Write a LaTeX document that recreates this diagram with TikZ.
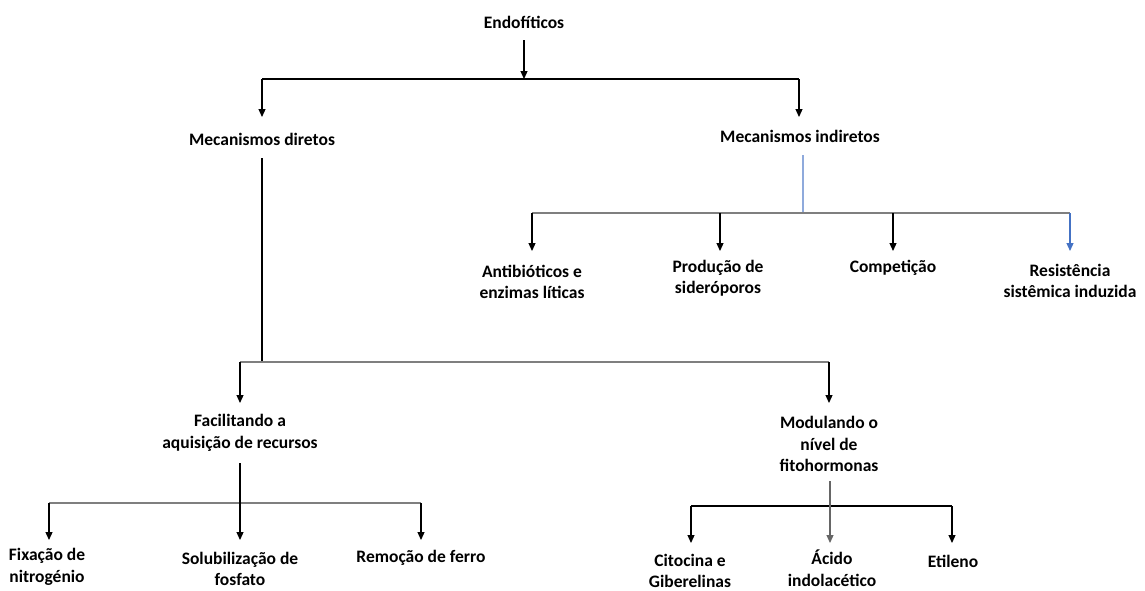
\documentclass[tikz,border=0pt]{standalone}
\usepackage{fontspec}
\setmainfont{Carlito}
\usetikzlibrary{arrows.meta}
\definecolor{lineblue}{HTML}{8FAADC}
\definecolor{arrowblue}{HTML}{4472C4}
\definecolor{linegray}{HTML}{7F7F7F}
\tikzset{
  lbl/.style={font=\bfseries\fontsize{17.5}{21.5}\selectfont, align=center, inner sep=0pt},
  arr/.style={-{Triangle[width=7pt,length=8pt]}, line width=1.2pt, black},
  ln/.style={line width=1.2pt, black},
  gln/.style={line width=1.3pt, linegray},
}
\begin{document}
\begin{tikzpicture}[x=1pt,y=-1pt]
\useasboundingbox (0,0) rectangle (1145,590);
\fill[white] (0,0) rectangle (1145,590);
% nodes
\node[lbl] (endo) at (524,22) {Endofíticos};
\node[lbl] (md) at (262,139) {Mecanismos diretos};
\node[lbl] (mi) at (800,136) {Mecanismos indiretos};
\node[lbl] (anti) at (532,282) {Antibióticos e\\enzimas líticas};
\node[lbl] (prod) at (718,278) {Produção de\\sideróporos};
\node[lbl] (comp) at (893,268) {Competição};
\node[lbl] (resi) at (1070,281) {Resistência\\sistêmica induzida};
\node[lbl] (fac) at (240,433) {Facilitando a\\aquisição de recursos};
\node[lbl] (mod) at (829,444) {Modulando o\\nível de\\fitohormonas};
\node[lbl] (fix) at (47,567) {Fixação de\\nitrogénio};
\node[lbl] (sol) at (240,569) {Solubilização de\\fosfato};
\node[lbl] (rem) at (421,558) {Remoção de ferro};
\node[lbl] (cito) at (690,571) {Citocina e\\Giberelinas};
\node[lbl] (acido) at (832,568) {Ácido\\indolacético};
\node[lbl] (etil) at (953,561) {Etileno};
% junction coordinates
\coordinate (e0) at (524,40);
\coordinate (e1) at (524,79);
\coordinate (eL) at (262,79);
\coordinate (eR) at (799,79);
\coordinate (mdT) at (262,117);
\coordinate (miT) at (799,117);
% top level
\draw[arr] (e0) -- (e1);
\draw[ln] (eL) -- (eR);
\draw[arr] (eL) -- (mdT);
\draw[arr] (eR) -- (miT);
% indirect mechanisms
\coordinate (i0) at (803,155);
\coordinate (i1) at (803,213);
\coordinate (iA) at (532,213);
\coordinate (iB) at (720,213);
\coordinate (iC) at (893,213);
\coordinate (iD) at (1070,213);
\draw[line width=1.2pt, lineblue] (i0) -- (i1);
\draw[gln] (iA) -- (iD);
\draw[arr] (iA) -- (532,251);
\draw[arr] (iB) -- (720,251);
\draw[arr] (iC) -- (893,251);
\draw[arr, arrowblue] (iD) -- (1070,251);
% direct mechanisms
\coordinate (d0) at (262,158);
\coordinate (d1) at (262,362);
\coordinate (dL) at (240,362);
\coordinate (dR) at (829,362);
\draw[ln] (d0) -- (d1);
\draw[gln] (dL) -- (dR);
\draw[arr] (dL) -- (240,403);
\draw[arr] (dR) -- (829,403);
% facilitando
\coordinate (f0) at (240,463);
\coordinate (fL) at (49,503);
\coordinate (fM) at (240,503);
\coordinate (fR) at (421,503);
\draw[gln] (fL) -- (fR);
\draw[arr] (f0) -- (240,540);
\draw[arr] (fL) -- (49,540);
\draw[arr] (fR) -- (421,540);
% modulando
\coordinate (m0) at (830,481);
\coordinate (mL) at (691,506);
\coordinate (mR) at (952,506);
\draw[ln] (mL) -- (mR);
\draw[arr, draw=gray!80!black] (m0) -- (830,543);
\draw[arr] (mL) -- (691,543);
\draw[arr] (mR) -- (952,543);
\end{tikzpicture}
\end{document}
